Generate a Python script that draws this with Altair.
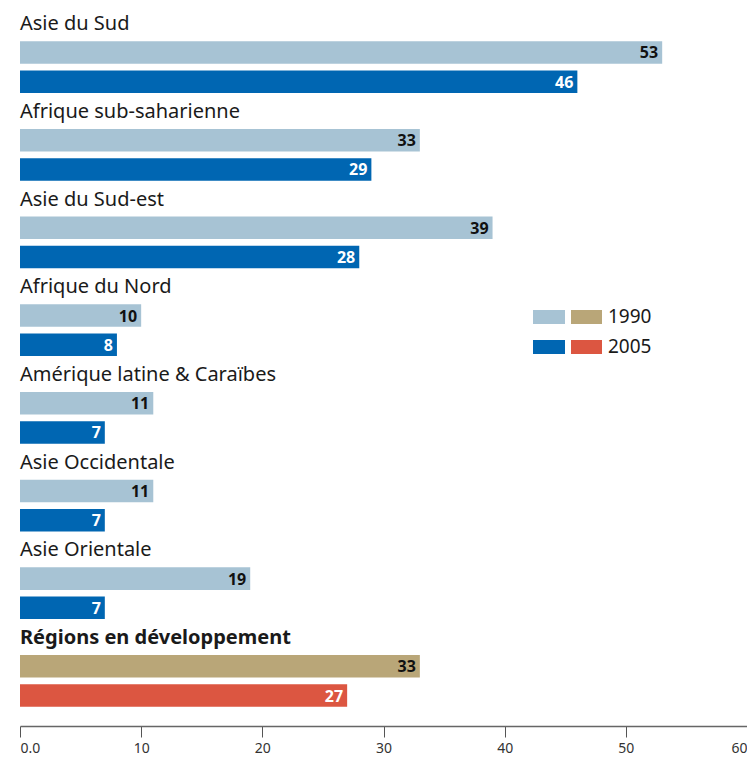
import altair as alt
import pandas as pd

regions = ["Asie du Sud", "Afrique sub-saharienne", "Asie du Sud-est", "Afrique du Nord",
           "Amérique latine & Caraïbes", "Asie Occidentale", "Asie Orientale",
           "Régions en développement"]
v1990 = [53, 33, 39, 10, 11, 11, 19, 33]
v2005 = [46, 29, 28, 8, 7, 7, 7, 27]
years = ["1990", "2005"]
x_ticks = [0, 10, 20, 30, 40, 50, 60]

series_domain = ["1990", "2005", "1990 total", "2005 total"]
series_colors = ["#a7c3d4", "#0066b2", "#b9a678", "#dc5641"]

FONT = "Noto Sans"

rows, titles = [], []
n = len(regions)
for i, r in enumerate(regions):
    total = i == n - 1
    titles.append({"slot": 3 * i, "label": r, "bold": total})
    for j, (yr, v) in enumerate(zip(years, [v1990[i], v2005[i]])):
        rows.append({"slot": 3 * i + 1 + j, "value": v, "year": yr,
                     "series": yr + (" total" if total else ""), "region": r})
bars_df = pd.DataFrame(rows)
titles_df = pd.DataFrame(titles)

yscale = alt.Scale(domain=list(range(3 * n)), paddingInner=0.23, paddingOuter=0.3285, align=0)
Y = alt.Y("slot:O", axis=None, scale=yscale)

xaxis = alt.Axis(values=x_ticks, title=None, grid=False, tickSize=11, domainColor="#666",
                 tickColor="#555", domainWidth=1.3, labelFlush=True, labelFont=FONT,
                 labelFontSize=14, labelColor="#333", labelPadding=4,
                 labelExpr="datum.value == 0 ? '0.0' : datum.label")

bars = alt.Chart(bars_df).mark_bar().encode(
    x=alt.X("value:Q", scale=alt.Scale(domain=[0, 60], nice=False), axis=xaxis),
    y=Y,
    color=alt.Color("series:N", scale=alt.Scale(domain=series_domain, range=series_colors), legend=None),
)

values = alt.Chart(bars_df).mark_text(align="right", baseline="middle", dx=-4, dy=1,
                                       fontWeight="bold", font=FONT, fontSize=16).encode(
    x="value:Q",
    y=Y,
    text="value:Q",
    color=alt.when(alt.datum.year == "1990").then(alt.value("#111111")).otherwise(alt.value("#ffffff")),
)

titles_plain = alt.Chart(titles_df).transform_filter("!datum.bold").mark_text(
    align="left", baseline="middle", font=FONT, fontSize=20, color="#1a1a1a", dy=1).encode(
    x=alt.value(0), y=Y, text="label:N")
titles_bold = alt.Chart(titles_df).transform_filter("datum.bold").mark_text(
    align="left", baseline="middle", font=FONT, fontSize=20, fontWeight="bold", color="#1a1a1a", dy=1).encode(
    x=alt.value(0), y=Y, text="label:N")

one = pd.DataFrame({"k": [0]})
legend_layers = []
legend_rows = [("1990", series_colors[0], series_colors[2], 298),
               ("2005", series_colors[1], series_colors[3], 328)]
for label, c1, c2, top in legend_rows:
    legend_layers.append(alt.Chart(one).mark_rect(color=c1).encode(
        x=alt.value(513), x2=alt.value(545), y=alt.value(top), y2=alt.value(top + 14)))
    legend_layers.append(alt.Chart(one).mark_rect(color=c2).encode(
        x=alt.value(551), x2=alt.value(582), y=alt.value(top), y2=alt.value(top + 14)))
    legend_layers.append(alt.Chart(one).mark_text(align="left", baseline="middle", font=FONT,
                                                  fontSize=19, color="#1a1a1a").encode(
        x=alt.value(588), y=alt.value(top + 7), text=alt.value(label)))

chart = alt.layer(bars, values, titles_plain, titles_bold, *legend_layers).properties(
    width=727, height=714, autosize="none",
    padding={"left": 12, "top": 4, "right": 0, "bottom": 33},
).configure_view(stroke=None)

chart.save("out.html", embed_options={"renderer": "svg", "actions": False})
